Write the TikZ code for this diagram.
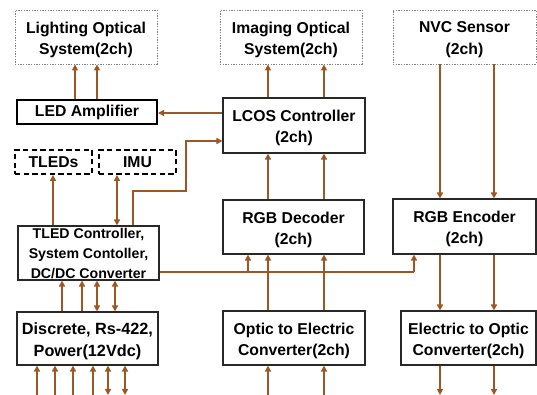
\documentclass[tikz,border=0pt]{standalone}
\usepackage{fontspec}
\setmainfont{Liberation Sans}
\usetikzlibrary{arrows.meta,calc}
\definecolor{wire}{RGB}{156,88,36}
\definecolor{frame}{RGB}{40,40,40}
\begin{document}
\begin{tikzpicture}[x=0.75pt,y=-0.75pt,
  lbl/.style={font=\bfseries\fontsize{11.8}{16}\selectfont,align=center,inner sep=0pt},
  twoline/.style={label={[lbl,yshift=-2pt]center:#1}},
  plainbox/.style={lbl,draw=frame,line width=0.8pt,fill=white},
  optbox/.style={lbl,draw=gray,line width=0.6pt,dash pattern=on 1pt off 1pt},
  ampbox/.style={lbl,draw=black,line width=1.5pt},
  extbox/.style={lbl,draw=black,line width=1.4pt,dash pattern=on 4pt off 2.5pt},
  arr/.style={draw=wire,line width=1.4pt,-{Triangle[length=4.5pt,width=4.5pt]}},
  biarr/.style={draw=wire,line width=1.4pt,{Triangle[length=4.5pt,width=4.5pt]}-{Triangle[length=4.5pt,width=4.5pt]}},
  wireline/.style={draw=wire,line width=1.4pt}]
\useasboundingbox (0,0) rectangle (537,395);

% ---- left column
\node[optbox,minimum width=106.5pt,minimum height=40.5pt,twoline={Lighting Optical\\System(2ch)}] (light) at (86,37) {};
\node[ampbox,minimum width=105pt,minimum height=18pt] (amp) at (87,112) {LED Amplifier};
\node[extbox,minimum width=57.75pt,minimum height=18pt] (tled) at (53.5,162) {TLEDs};
\node[extbox,minimum width=57.75pt,minimum height=18pt] (imu) at (137.5,162) {IMU};
\node[plainbox,minimum width=105.75pt,minimum height=40.5pt,
  label={[lbl,font=\bfseries\fontsize{10.6}{15}\selectfont,yshift=-0.5pt]center:TLED Controller,\\System Contoller,\\DC/DC Converter}] (ctrl) at (88.5,253) {};
\node[plainbox,minimum width=105.75pt,minimum height=39.75pt,fill=none,
  label={[lbl,font=\bfseries\fontsize{12.2}{16}\selectfont,yshift=-2pt]center:Discrete, Rs-422,\\Power(12Vdc)}] (io) at (87.5,338.5) {};

% ---- middle column
\node[optbox,minimum width=106.5pt,minimum height=40.5pt,twoline={Imaging Optical\\System(2ch)}] (img) at (291,37) {};
\node[plainbox,minimum width=106.5pt,minimum height=41.25pt,twoline={LCOS Controller\\(2ch)}] (lcos) at (294,125.5) {};
\node[plainbox,minimum width=105.75pt,minimum height=40.5pt,twoline={RGB Decoder\\(2ch)}] (dec) at (293.5,227) {};
\node[plainbox,minimum width=106.5pt,minimum height=40.5pt,twoline={Optic to Electric\\Converter(2ch)}] (o2e) at (294,338) {};

% ---- right column
\node[optbox,minimum width=107.25pt,minimum height=40.5pt,twoline={NVC Sensor\\(2ch)}] (nvc) at (464.5,37) {};
\node[plainbox,minimum width=107.25pt,minimum height=41.25pt,twoline={RGB Encoder\\(2ch)}] (enc) at (464.5,226.5) {};
\node[plainbox,minimum width=101.25pt,minimum height=40.5pt,twoline={Electric to Optic\\Converter(2ch)}] (e2o) at (468.5,338) {};

% ---- column and row references
\foreach \x in {37,53,55,62,73,75,82,93,97,108,115,117,125,133,186,248,268,324,414,440,494}
  \coordinate (x\x) at (\x,0);
\coordinate (ybot) at (0,395);
\coordinate (y113) at (0,113);
\coordinate (y141) at (0,141);
\coordinate (y191) at (0,191);
\coordinate (y272) at (0,272);
\coordinate (tapd) at (248,272);
\coordinate (tape) at (414,272);

% ---- left column connectors
\foreach \x in {75,97}
  \draw[arr] (amp.north -| x\x) -- (light.south -| x\x);
\draw[arr] (lcos.west |- y113) -- (amp.east |- y113);
\draw[arr] (ctrl.north -| x53) -- (tled.south -| x53);
\draw[biarr] (ctrl.north -| x117) -- (imu.south -| x117);
\draw[arr] (ctrl.north -| x133) |- (x186 |- y191) |- (lcos.west |- y141);
\foreach \x in {62,82}
  \draw[arr] (io.north -| x\x) -- (ctrl.south -| x\x);
\foreach \x in {97,115}
  \draw[biarr] (io.north -| x\x) -- (ctrl.south -| x\x);
\foreach \x in {37,55,73,93}
  \draw[arr] (ybot -| x\x) -- (io.south -| x\x);
\foreach \x in {108,125}
  \draw[biarr] (ybot -| x\x) -- (io.south -| x\x);

% ---- control bus to decoder and encoder
\draw[wireline] (ctrl.east |- y272) -- (tape);
\draw[arr] (tapd) -- (dec.south -| tapd);
\draw[arr] (tape) -- (enc.south -| tape);

% ---- imaging chain
\foreach \x in {268,324} {
  \draw[arr] (ybot -| x\x) -- (o2e.south -| x\x);
  \draw[arr] (o2e.north -| x\x) -- (dec.south -| x\x);
  \draw[arr] (dec.north -| x\x) -- (lcos.south -| x\x);
  \draw[arr] (lcos.north -| x\x) -- (img.south -| x\x);
}

% ---- sensor chain
\foreach \x in {440,494} {
  \draw[arr] (nvc.south -| x\x) -- (enc.north -| x\x);
  \draw[arr] (enc.south -| x\x) -- (e2o.north -| x\x);
  \draw[arr] (e2o.south -| x\x) -- (ybot -| x\x);
}
\end{tikzpicture}
\end{document}
